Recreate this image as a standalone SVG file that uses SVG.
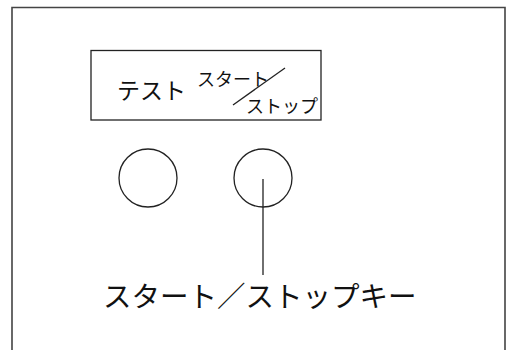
<svg xmlns="http://www.w3.org/2000/svg" width="513" height="350" viewBox="0 0 513 350">
<style>
.ln{fill:none;stroke:#222;stroke-width:1.3}
.fr{fill:none;stroke:#444;stroke-width:1.6}
text{font-family:"Noto Sans CJK JP","Noto Sans",sans-serif;fill:#111}
</style>
<rect width="513" height="350" fill="#fff"/>
<g id="frame"><path class="fr" d="M12,352 V7.5 H505 V352"/></g>
<g id="panel">
<rect class="ln" x="91" y="50.5" width="230" height="69.5"/>
<text x="117" y="99" font-size="23">テスト</text>
<text x="197" y="86" font-size="18">スタート</text>
<text x="246" y="113" font-size="18">ストップ</text>
<line class="ln" x1="233" y1="105" x2="285" y2="68"/>
</g>
<g id="btn-test"><circle class="ln" cx="148" cy="178" r="29"/></g>
<g id="btn-start"><circle class="ln" cx="263" cy="178" r="29"/></g>
<g id="connectors"><line class="ln" x1="263" y1="179" x2="263" y2="275"/></g>
<g id="label"><text x="103" y="307" font-size="28.5">スタート／ストップキー</text></g>
</svg>
